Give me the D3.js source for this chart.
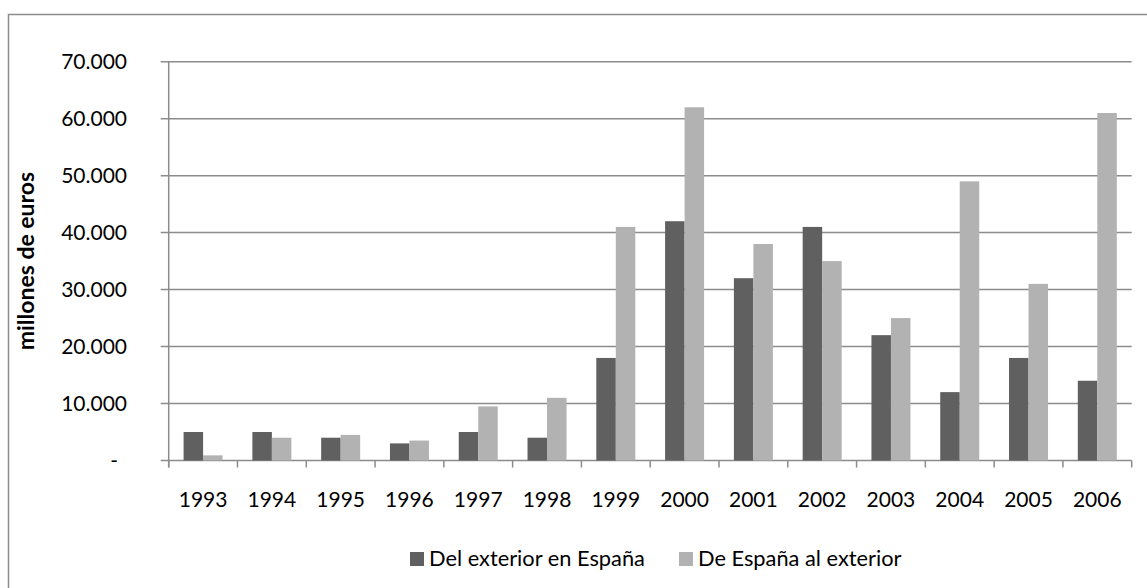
<!DOCTYPE html>
<html>
<head>
<meta charset="utf-8">
<script src="https://cdn.jsdelivr.net/npm/d3@7"></script>
<style>
  body { margin: 0; background: #fff; }
  svg text { font-family: Lato, "Open Sans", sans-serif; fill: #000; }
</style>
</head>
<body>
<div id="chart"></div>
<script>
var years = ["1993","1994","1995","1996","1997","1998","1999","2000","2001","2002","2003","2004","2005","2006"];
var exteriorEnEspana = [5000,5000,4000,3000,5000,4000,18000,42000,32000,41000,22000,12000,18000,14000];
var espanaAlExterior = [900,4000,4500,3500,9500,11000,41000,62000,38000,35000,25000,49000,31000,61000];
var yTicks = [0,10000,20000,30000,40000,50000,60000,70000];
var seriesNames = ["Del exterior en España","De España al exterior"];
var seriesColors = ["#606060","#b2b2b2"];

var width = 1147, height = 588;
var plot = {left: 168.7, right: 1131.7, top: 61.7, bottom: 460.5};

var svg = d3.select("#chart").append("svg")
  .attr("width", width)
  .attr("height", height);

// outer frame (only top and left visible)
svg.append("rect")
  .attr("x", 8.5).attr("y", 14.5)
  .attr("width", 1160).attr("height", 600)
  .attr("fill", "none")
  .attr("stroke", "#8c8c8c")
  .attr("stroke-width", 1.5);

var x = d3.scaleBand().domain(years)
  .range([plot.left, plot.right])
  .paddingInner(0.433).paddingOuter(0.2165);
var xs = d3.scaleBand().domain([0,1]).range([0, x.bandwidth()]);
var y = d3.scaleLinear().domain([0,70000]).range([plot.bottom, plot.top]);

var es = d3.formatLocale({decimal: ",", thousands: ".", grouping: [3], currency: ["", ""]});
var fmt = es.format(",");

// gridlines + left ticks
svg.append("g")
  .selectAll("line")
  .data(yTicks)
  .enter().append("line")
  .attr("x1", plot.left - 8)
  .attr("x2", plot.right)
  .attr("y1", function(d){ return y(d); })
  .attr("y2", function(d){ return y(d); })
  .attr("stroke", "#8c8c8c")
  .attr("stroke-width", 1.5);

// y axis line
svg.append("line")
  .attr("x1", plot.left).attr("x2", plot.left)
  .attr("y1", plot.top).attr("y2", plot.bottom + 7)
  .attr("stroke", "#8c8c8c").attr("stroke-width", 1.5);

// y tick labels
svg.append("g")
  .selectAll("text")
  .data(yTicks)
  .enter().append("text")
  .attr("x", function(d){ return d === 0 ? 118 : 127; })
  .attr("y", function(d){ return y(d); })
  .attr("dy", "0.35em")
  .attr("text-anchor", "end")
  .style("font-size", "21px")
  .text(function(d){ return d === 0 ? "-" : fmt(d); });

// x boundary ticks
svg.append("g")
  .selectAll("line")
  .data(d3.range(years.length + 1))
  .enter().append("line")
  .attr("x1", function(i){ return plot.left + i * x.step(); })
  .attr("x2", function(i){ return plot.left + i * x.step(); })
  .attr("y1", plot.bottom)
  .attr("y2", plot.bottom + 7)
  .attr("stroke", "#8c8c8c").attr("stroke-width", 1.5);

// bars
var groups = svg.append("g")
  .selectAll("g")
  .data(years)
  .enter().append("g")
  .attr("transform", function(d){ return "translate(" + x(d) + ",0)"; });

groups.selectAll("rect")
  .data(function(d, i){ return [exteriorEnEspana[i], espanaAlExterior[i]]; })
  .enter().append("rect")
  .attr("x", function(d, j){ return xs(j); })
  .attr("width", xs.bandwidth())
  .attr("y", function(d){ return y(d); })
  .attr("height", function(d){ return y(0) - y(d); })
  .attr("fill", function(d, j){ return seriesColors[j]; });

// x labels
svg.append("g")
  .selectAll("text")
  .data(years)
  .enter().append("text")
  .attr("x", function(d){ return x(d) + x.bandwidth() / 2; })
  .attr("y", 507)
  .attr("text-anchor", "middle")
  .style("font-size", "21px")
  .text(function(d){ return d; });

// y title
svg.append("text")
  .attr("transform", "translate(34," + ((plot.top + plot.bottom) / 2) + ") rotate(-90)")
  .attr("text-anchor", "middle")
  .style("font-size", "23px")
  .style("font-weight", "bold")
  .text("millones de euros");

// legend
var legendX = [410, 679];
var legend = svg.append("g")
  .selectAll("g")
  .data(seriesNames)
  .enter().append("g")
  .attr("transform", function(d, i){ return "translate(" + legendX[i] + ",552)"; });
legend.append("rect")
  .attr("width", 14).attr("height", 14)
  .attr("fill", function(d, i){ return seriesColors[i]; });
legend.append("text")
  .attr("x", 19).attr("y", 14)
  .style("font-size", "21.8px")
  .text(function(d){ return d; });
</script>
</body>
</html>
